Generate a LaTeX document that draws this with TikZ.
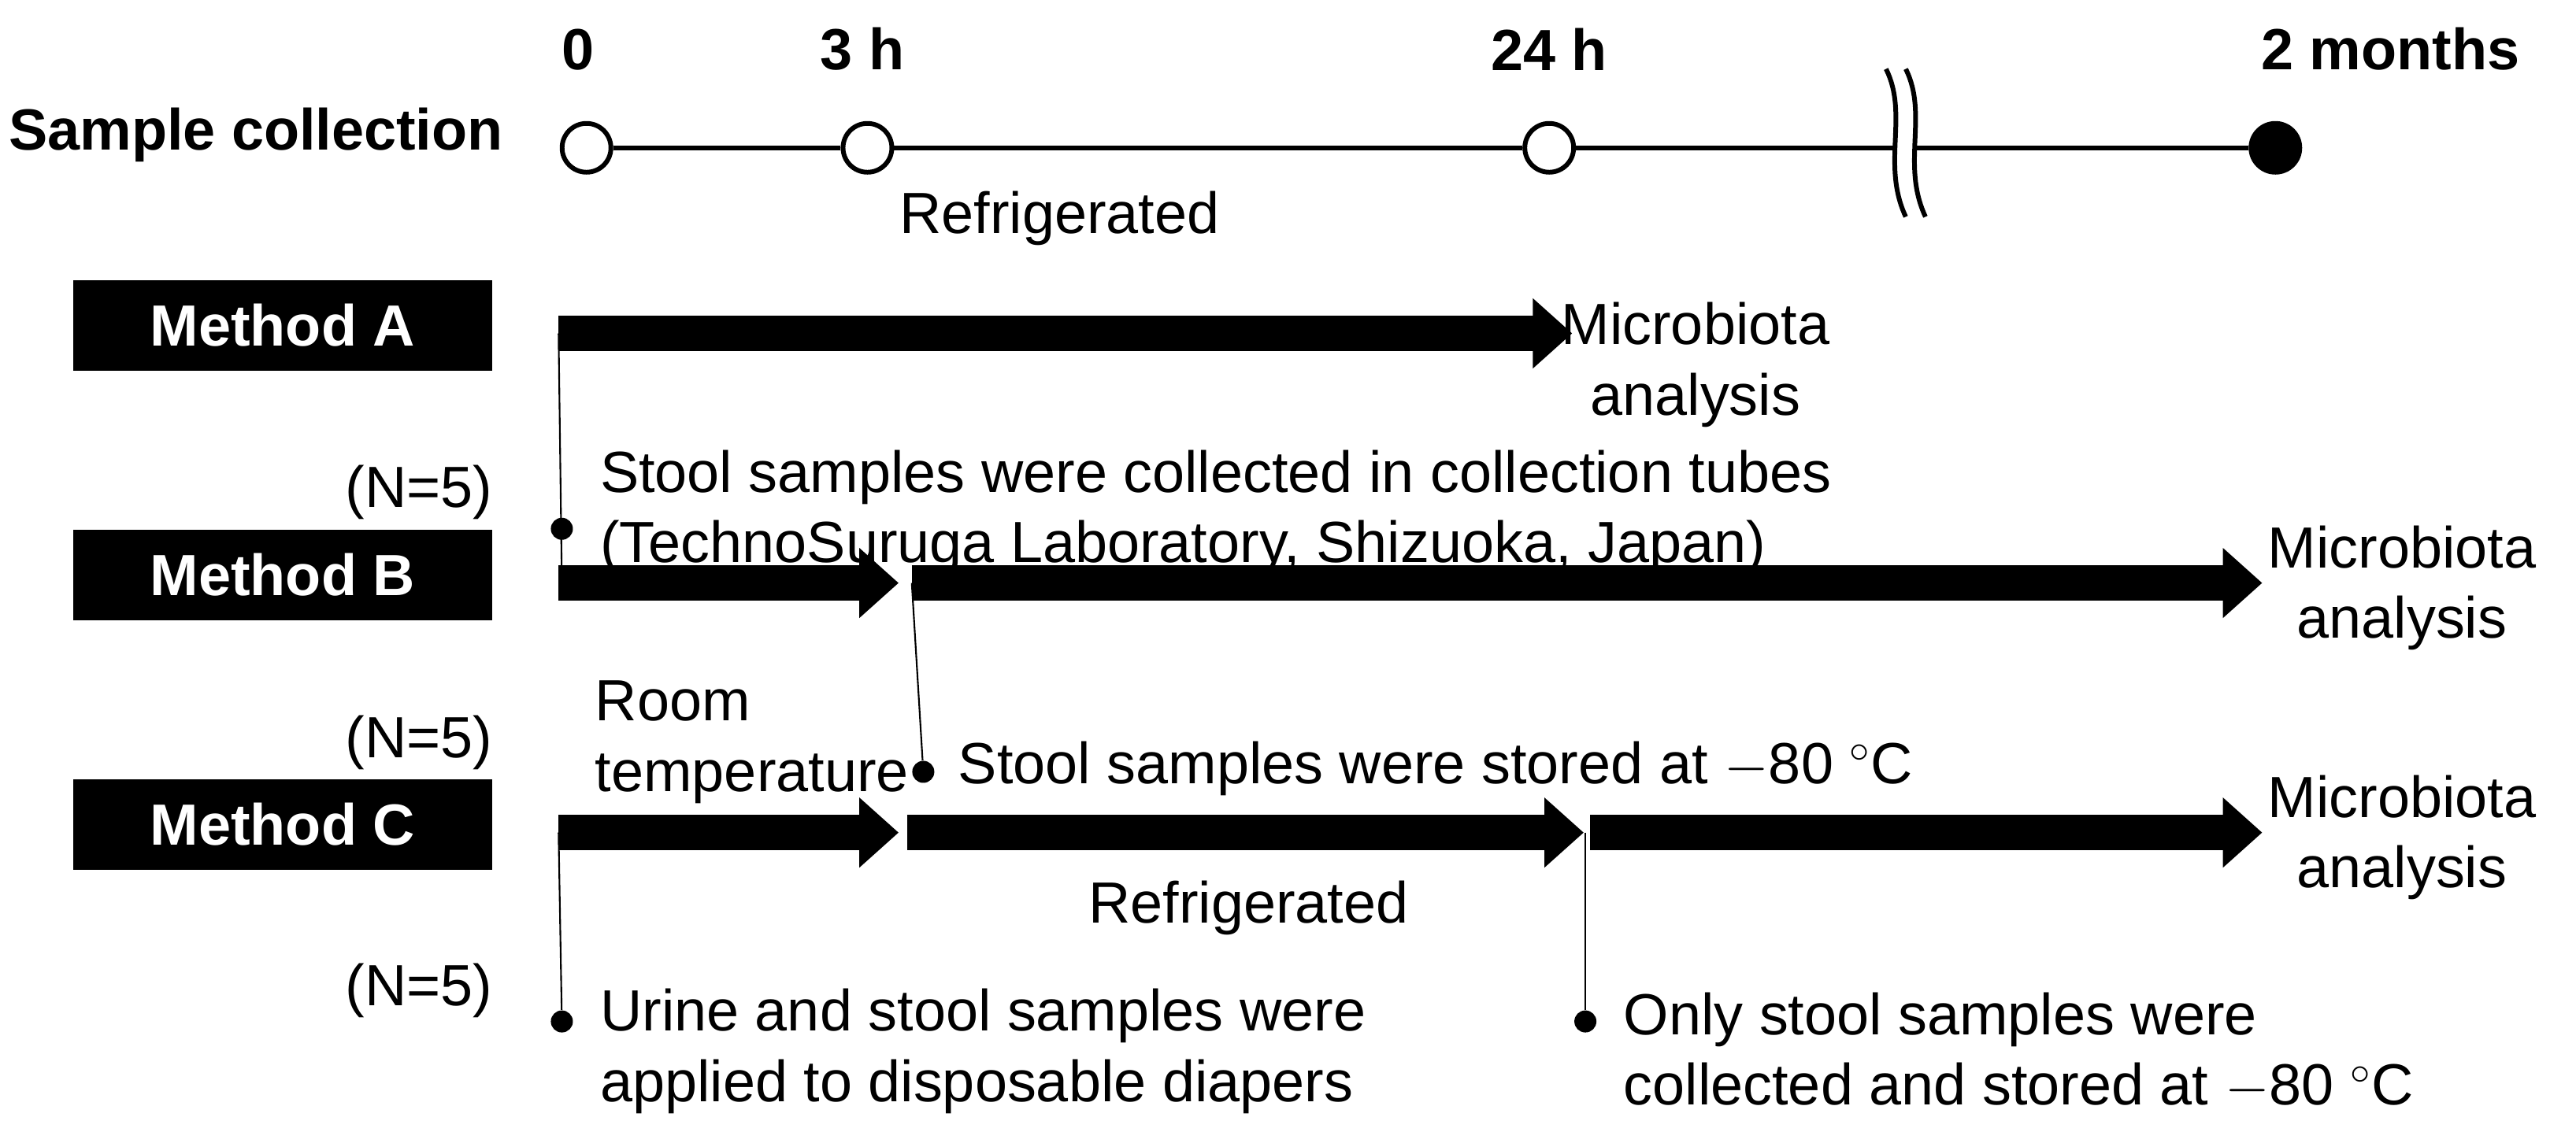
\documentclass[tikz,border=0pt]{standalone}
\usepackage{fontspec}
\setmainfont{Liberation Sans}
\usetikzlibrary{arrows.meta, positioning}
\tikzset{
  px/.style={x=0.020861cm, y=-0.020861cm},
  txt/.style={font=\fontsize{21}{25.5}\selectfont, align=left, inner sep=0pt},
  bold/.style={txt, font=\fontsize{21}{25.5}\selectfont\bfseries},
  method/.style={fill=black, text=white, font=\fontsize{21}{25.5}\selectfont\bfseries, minimum width=5.32cm, minimum height=1.15cm, inner sep=0pt},
  tick/.style={circle, draw=black, fill=white, line width=1.7pt, minimum size=0.62cm, inner sep=0pt},
  fat/.style={-{Triangle[length=0.5cm, width=0.86cm]}, line width=0.45cm},
  leader/.style={line width=0.6pt},
  dot/.style={circle, fill=black, inner sep=0pt, minimum size=0.28cm}
}
\newcommand{\degc}{$^{\circ}$C}
\begin{document}
\begin{tikzpicture}[px]
  \useasboundingbox (0,0) rectangle (1568,696);
  % timeline
  \node[bold, anchor=west] (sc) at (5,82) {Sample collection};
  \node[tick] (t0) at (357,90) {};
  \node[tick] (t3) at (528,90) {};
  \node[tick] (t24) at (943,90) {};
  \node[tick, fill=black] (t2m) at (1385,90) {};
  \coordinate (brk) at (1160,90);
  \draw[line width=1.7pt] (t0) -- (t3) (t3) -- (t24) (t24) -- ([xshift=-4]brk) ([xshift=4]brk) -- (t2m);
  \draw[line width=1.7pt] (1148,42) .. controls (1162,70) and (1145,100) .. (1160,132)
                          (1160,42) .. controls (1174,70) and (1157,100) .. (1172,132);
  \node[bold] (l0) at (352,30) {0};
  \node[bold] (l3) at (525,30) {3 h};
  \node[bold] (l24) at (943,30) {24 h};
  \node[bold] (l2m) at (1455,30) {2 months};
  % method A
  \node[method] (ma) at (172,198) {Method A};
  \node[txt] (na) at (255,300) {(N=5)};
  \coordinate (a0) at (340,203);
  \coordinate (a1) at (957,203);
  \draw[fat] (a0) -- (a1);
  \node[txt] (ra) at (645,133) {Refrigerated};
  \node[txt, align=center] (mba) at (1032,222) {Microbiota\\analysis};
  \node[dot] (da) at (342,322) {};
  \draw[leader] (a0) -- (342,355);
  \node[txt, anchor=west] (sa) at (365,312) {Stool samples were collected in collection tubes\\(TechnoSuruga Laboratory, Shizuoka, Japan)};
  % method B
  \node[method] (mb) at (172,350) {Method B};
  \node[txt] (nb) at (255,452) {(N=5)};
  \draw[fat] (340,355) -- (547,355);
  \draw[fat] (555,355) -- (1377,355);
  \node[txt, align=center] (mbb) at (1462,358) {Microbiota\\analysis};
  \node[txt, anchor=west] (rt) at (362,452) {Room\\temperature};
  \node[dot] (db) at (562,470) {};
  \draw[leader] (555,355) -- (db);
  \node[txt, anchor=west] (sb) at (583,468) {Stool samples were stored at $-$80 \degc};
  % method C
  \node[method] (mc) at (172,502) {Method C};
  \node[txt] (nc) at (255,603) {(N=5)};
  \draw[fat] (340,507) -- (547,507);
  \draw[fat] (552,507) -- (964,507);
  \draw[fat] (968,507) -- (1377,507);
  \node[txt, align=center] (mbc) at (1462,510) {Microbiota\\analysis};
  \node[txt] (rc) at (760,553) {Refrigerated};
  \node[dot] (dc1) at (342,622) {};
  \draw[leader] (340,507) -- (dc1);
  \node[txt, anchor=west] (sc1) at (365,640) {Urine and stool samples were\\applied to disposable diapers};
  \node[dot] (dc2) at (965,622) {};
  \draw[leader] (965,507) -- (dc2);
  \node[txt, anchor=west] (sc2) at (988,640) {Only stool samples were\\collected and stored at $-$80 \degc};
\end{tikzpicture}
\end{document}
